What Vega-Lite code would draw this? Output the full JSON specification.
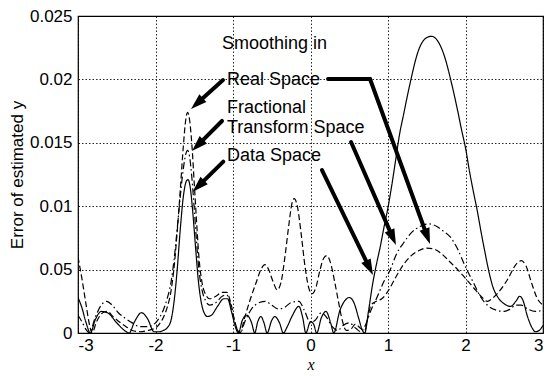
{
  "$schema": "https://vega.github.io/schema/vega-lite/v6.json",
  "width": 465,
  "height": 317,
  "autosize": {"type": "none"},
  "padding": {"left": 78, "top": 16, "right": 6, "bottom": 43},
  "background": "white",
  "config": {
    "view": {"stroke": "black", "strokeWidth": 1.2},
    "axis": {
      "domain": false, "ticks": false, "grid": true,
      "gridColor": "black", "gridDash": [1.5, 2], "gridWidth": 1, "gridOpacity": 0.85,
      "labelColor": "black", "labelFont": "Liberation Sans", "labelFontSize": 17,
      "titleColor": "black", "titleFont": "Liberation Sans", "titleFontSize": 17, "titleFontWeight": "normal"
    }
  },
  "datasets": {
    "series": [
      {"s":"Data","x":-3.0,"y":0.0028},{"s":"Data","x":-2.95,"y":0.0020},{"s":"Data","x":-2.9,"y":0.0009},{"s":"Data","x":-2.84,"y":0.0},{"s":"Data","x":-2.78,"y":0.0010},{"s":"Data","x":-2.7,"y":0.0017},{"s":"Data","x":-2.62,"y":0.0016},{"s":"Data","x":-2.5,"y":0.0008},{"s":"Data","x":-2.4,"y":0.0002},{"s":"Data","x":-2.34,"y":0.0},{"s":"Data","x":-2.27,"y":0.0009},{"s":"Data","x":-2.18,"y":0.0016},{"s":"Data","x":-2.1,"y":0.0011},{"s":"Data","x":-2.02,"y":0.0001},{"s":"Data","x":-1.95,"y":0.0001},{"s":"Data","x":-1.9,"y":0.0002},{"s":"Data","x":-1.85,"y":0.0004},{"s":"Data","x":-1.8,"y":0.0010},{"s":"Data","x":-1.76,"y":0.0025},{"s":"Data","x":-1.72,"y":0.0050},{"s":"Data","x":-1.68,"y":0.0082},{"s":"Data","x":-1.64,"y":0.0108},{"s":"Data","x":-1.6,"y":0.0120},{"s":"Data","x":-1.58,"y":0.0121},{"s":"Data","x":-1.55,"y":0.0114},{"s":"Data","x":-1.52,"y":0.0096},{"s":"Data","x":-1.48,"y":0.0065},{"s":"Data","x":-1.45,"y":0.0043},{"s":"Data","x":-1.42,"y":0.0028},{"s":"Data","x":-1.38,"y":0.0017},{"s":"Data","x":-1.33,"y":0.0013},{"s":"Data","x":-1.28,"y":0.0014},{"s":"Data","x":-1.2,"y":0.0021},{"s":"Data","x":-1.12,"y":0.0027},{"s":"Data","x":-1.07,"y":0.0027},{"s":"Data","x":-1.02,"y":0.0017},{"s":"Data","x":-0.97,"y":0.0005},{"s":"Data","x":-0.93,"y":0.0},{"s":"Data","x":-0.88,"y":0.0010},{"s":"Data","x":-0.82,"y":0.0014},{"s":"Data","x":-0.76,"y":0.0008},{"s":"Data","x":-0.72,"y":0.0},{"s":"Data","x":-0.68,"y":0.0009},{"s":"Data","x":-0.64,"y":0.0013},{"s":"Data","x":-0.6,"y":0.0008},{"s":"Data","x":-0.56,"y":0.0},{"s":"Data","x":-0.5,"y":0.0010},{"s":"Data","x":-0.46,"y":0.0013},{"s":"Data","x":-0.4,"y":0.0008},{"s":"Data","x":-0.35,"y":0.0},{"s":"Data","x":-0.3,"y":0.0005},{"s":"Data","x":-0.24,"y":0.0013},{"s":"Data","x":-0.15,"y":0.0021},{"s":"Data","x":-0.1,"y":0.0012},{"s":"Data","x":-0.06,"y":0.0},{"s":"Data","x":0.0,"y":0.0009},{"s":"Data","x":0.04,"y":0.0007},{"s":"Data","x":0.08,"y":0.0},{"s":"Data","x":0.14,"y":0.0012},{"s":"Data","x":0.2,"y":0.0017},{"s":"Data","x":0.26,"y":0.0008},{"s":"Data","x":0.3,"y":0.0},{"s":"Data","x":0.38,"y":0.0018},{"s":"Data","x":0.45,"y":0.0026},{"s":"Data","x":0.5,"y":0.0028},{"s":"Data","x":0.56,"y":0.0024},{"s":"Data","x":0.62,"y":0.0012},{"s":"Data","x":0.67,"y":0.0002},{"s":"Data","x":0.7,"y":0.0},{"s":"Data","x":0.75,"y":0.0018},{"s":"Data","x":0.8,"y":0.0038},{"s":"Data","x":0.85,"y":0.0054},{"s":"Data","x":0.9,"y":0.0068},{"s":"Data","x":0.95,"y":0.0084},{"s":"Data","x":1.0,"y":0.0099},{"s":"Data","x":1.05,"y":0.0117},{"s":"Data","x":1.1,"y":0.0137},{"s":"Data","x":1.15,"y":0.0157},{"s":"Data","x":1.2,"y":0.0172},{"s":"Data","x":1.25,"y":0.0187},{"s":"Data","x":1.3,"y":0.0201},{"s":"Data","x":1.35,"y":0.0214},{"s":"Data","x":1.4,"y":0.0224},{"s":"Data","x":1.45,"y":0.0230},{"s":"Data","x":1.5,"y":0.0233},{"s":"Data","x":1.56,"y":0.0234},{"s":"Data","x":1.62,"y":0.0232},{"s":"Data","x":1.68,"y":0.0226},{"s":"Data","x":1.74,"y":0.0216},{"s":"Data","x":1.8,"y":0.0202},{"s":"Data","x":1.85,"y":0.0189},{"s":"Data","x":1.9,"y":0.0175},{"s":"Data","x":1.95,"y":0.0160},{"s":"Data","x":2.0,"y":0.0146},{"s":"Data","x":2.05,"y":0.0128},{"s":"Data","x":2.1,"y":0.0112},{"s":"Data","x":2.15,"y":0.0097},{"s":"Data","x":2.2,"y":0.0080},{"s":"Data","x":2.25,"y":0.0064},{"s":"Data","x":2.3,"y":0.0049},{"s":"Data","x":2.35,"y":0.0037},{"s":"Data","x":2.42,"y":0.0028},{"s":"Data","x":2.5,"y":0.0023},{"s":"Data","x":2.58,"y":0.0021},{"s":"Data","x":2.65,"y":0.0025},{"s":"Data","x":2.7,"y":0.0029},{"s":"Data","x":2.74,"y":0.0026},{"s":"Data","x":2.8,"y":0.0013},{"s":"Data","x":2.86,"y":0.0004},{"s":"Data","x":2.9,"y":0.0001},{"s":"Data","x":2.95,"y":0.0002},{"s":"Data","x":3.0,"y":0.0006},

      {"s":"Real","x":-3.0,"y":0.0060},{"s":"Real","x":-2.95,"y":0.0043},{"s":"Real","x":-2.9,"y":0.0024},{"s":"Real","x":-2.85,"y":0.0006},{"s":"Real","x":-2.82,"y":0.0},{"s":"Real","x":-2.76,"y":0.0009},{"s":"Real","x":-2.68,"y":0.0016},{"s":"Real","x":-2.62,"y":0.0017},{"s":"Real","x":-2.55,"y":0.0013},{"s":"Real","x":-2.45,"y":0.0008},{"s":"Real","x":-2.38,"y":0.0005},{"s":"Real","x":-2.3,"y":0.0002},{"s":"Real","x":-2.2,"y":0.0001},{"s":"Real","x":-2.1,"y":0.0002},{"s":"Real","x":-2.0,"y":0.0004},{"s":"Real","x":-1.95,"y":0.0007},{"s":"Real","x":-1.9,"y":0.0012},{"s":"Real","x":-1.85,"y":0.0020},{"s":"Real","x":-1.8,"y":0.0033},{"s":"Real","x":-1.76,"y":0.0052},{"s":"Real","x":-1.72,"y":0.0080},{"s":"Real","x":-1.68,"y":0.0113},{"s":"Real","x":-1.64,"y":0.0148},{"s":"Real","x":-1.61,"y":0.0168},{"s":"Real","x":-1.585,"y":0.0174},{"s":"Real","x":-1.56,"y":0.0168},{"s":"Real","x":-1.53,"y":0.0148},{"s":"Real","x":-1.5,"y":0.0118},{"s":"Real","x":-1.47,"y":0.0088},{"s":"Real","x":-1.44,"y":0.0060},{"s":"Real","x":-1.4,"y":0.0040},{"s":"Real","x":-1.35,"y":0.0030},{"s":"Real","x":-1.3,"y":0.0027},{"s":"Real","x":-1.22,"y":0.0029},{"s":"Real","x":-1.14,"y":0.0032},{"s":"Real","x":-1.08,"y":0.0032},{"s":"Real","x":-1.03,"y":0.0024},{"s":"Real","x":-0.98,"y":0.0010},{"s":"Real","x":-0.94,"y":0.0002},{"s":"Real","x":-0.91,"y":0.0},{"s":"Real","x":-0.85,"y":0.0012},{"s":"Real","x":-0.78,"y":0.0026},{"s":"Real","x":-0.7,"y":0.0040},{"s":"Real","x":-0.64,"y":0.0050},{"s":"Real","x":-0.59,"y":0.0054},{"s":"Real","x":-0.54,"y":0.0050},{"s":"Real","x":-0.48,"y":0.0040},{"s":"Real","x":-0.43,"y":0.0034},{"s":"Real","x":-0.38,"y":0.0040},{"s":"Real","x":-0.33,"y":0.0060},{"s":"Real","x":-0.28,"y":0.0085},{"s":"Real","x":-0.24,"y":0.0102},{"s":"Real","x":-0.21,"y":0.0106},{"s":"Real","x":-0.17,"y":0.0100},{"s":"Real","x":-0.12,"y":0.0078},{"s":"Real","x":-0.07,"y":0.0052},{"s":"Real","x":-0.02,"y":0.0035},{"s":"Real","x":0.02,"y":0.0031},{"s":"Real","x":0.07,"y":0.0036},{"s":"Real","x":0.12,"y":0.0049},{"s":"Real","x":0.17,"y":0.0059},{"s":"Real","x":0.21,"y":0.0061},{"s":"Real","x":0.26,"y":0.0055},{"s":"Real","x":0.31,"y":0.0041},{"s":"Real","x":0.36,"y":0.0025},{"s":"Real","x":0.41,"y":0.0010},{"s":"Real","x":0.46,"y":0.0002},{"s":"Real","x":0.52,"y":0.0003},{"s":"Real","x":0.58,"y":0.0007},{"s":"Real","x":0.64,"y":0.0004},{"s":"Real","x":0.7,"y":0.0002},{"s":"Real","x":0.74,"y":0.0012},{"s":"Real","x":0.78,"y":0.0022},{"s":"Real","x":0.85,"y":0.0025},{"s":"Real","x":0.92,"y":0.0027},{"s":"Real","x":1.0,"y":0.0033},{"s":"Real","x":1.1,"y":0.0044},{"s":"Real","x":1.2,"y":0.0054},{"s":"Real","x":1.3,"y":0.0061},{"s":"Real","x":1.4,"y":0.0065},{"s":"Real","x":1.5,"y":0.0067},{"s":"Real","x":1.6,"y":0.0066},{"s":"Real","x":1.7,"y":0.0062},{"s":"Real","x":1.8,"y":0.0056},{"s":"Real","x":1.9,"y":0.0050},{"s":"Real","x":2.0,"y":0.0043},{"s":"Real","x":2.1,"y":0.0036},{"s":"Real","x":2.2,"y":0.0029},{"s":"Real","x":2.28,"y":0.0025},{"s":"Real","x":2.36,"y":0.0028},{"s":"Real","x":2.45,"y":0.0034},{"s":"Real","x":2.55,"y":0.0043},{"s":"Real","x":2.65,"y":0.0054},{"s":"Real","x":2.72,"y":0.0057},{"s":"Real","x":2.78,"y":0.0053},{"s":"Real","x":2.85,"y":0.0040},{"s":"Real","x":2.92,"y":0.0028},{"s":"Real","x":3.0,"y":0.0022},

      {"s":"Fractional","x":-3.0,"y":0.0014},{"s":"Fractional","x":-2.95,"y":0.0009},{"s":"Fractional","x":-2.9,"y":0.0003},{"s":"Fractional","x":-2.85,"y":0.0},{"s":"Fractional","x":-2.78,"y":0.0012},{"s":"Fractional","x":-2.7,"y":0.0022},{"s":"Fractional","x":-2.63,"y":0.0025},{"s":"Fractional","x":-2.56,"y":0.0022},{"s":"Fractional","x":-2.48,"y":0.0016},{"s":"Fractional","x":-2.4,"y":0.0012},{"s":"Fractional","x":-2.3,"y":0.0008},{"s":"Fractional","x":-2.2,"y":0.0005},{"s":"Fractional","x":-2.1,"y":0.0005},{"s":"Fractional","x":-2.0,"y":0.0008},{"s":"Fractional","x":-1.95,"y":0.0012},{"s":"Fractional","x":-1.9,"y":0.0018},{"s":"Fractional","x":-1.85,"y":0.0027},{"s":"Fractional","x":-1.8,"y":0.0040},{"s":"Fractional","x":-1.76,"y":0.0058},{"s":"Fractional","x":-1.72,"y":0.0082},{"s":"Fractional","x":-1.68,"y":0.0108},{"s":"Fractional","x":-1.64,"y":0.0130},{"s":"Fractional","x":-1.61,"y":0.0141},{"s":"Fractional","x":-1.585,"y":0.0144},{"s":"Fractional","x":-1.56,"y":0.0139},{"s":"Fractional","x":-1.53,"y":0.0122},{"s":"Fractional","x":-1.5,"y":0.0098},{"s":"Fractional","x":-1.47,"y":0.0072},{"s":"Fractional","x":-1.44,"y":0.0050},{"s":"Fractional","x":-1.4,"y":0.0034},{"s":"Fractional","x":-1.35,"y":0.0025},{"s":"Fractional","x":-1.3,"y":0.0022},{"s":"Fractional","x":-1.22,"y":0.0024},{"s":"Fractional","x":-1.14,"y":0.0029},{"s":"Fractional","x":-1.08,"y":0.0030},{"s":"Fractional","x":-1.03,"y":0.0022},{"s":"Fractional","x":-0.98,"y":0.0009},{"s":"Fractional","x":-0.94,"y":0.0002},{"s":"Fractional","x":-0.91,"y":0.0},{"s":"Fractional","x":-0.84,"y":0.0010},{"s":"Fractional","x":-0.76,"y":0.0019},{"s":"Fractional","x":-0.66,"y":0.0024},{"s":"Fractional","x":-0.58,"y":0.0025},{"s":"Fractional","x":-0.5,"y":0.0022},{"s":"Fractional","x":-0.42,"y":0.0019},{"s":"Fractional","x":-0.34,"y":0.0020},{"s":"Fractional","x":-0.25,"y":0.0024},{"s":"Fractional","x":-0.15,"y":0.0025},{"s":"Fractional","x":-0.08,"y":0.0018},{"s":"Fractional","x":0.0,"y":0.0008},{"s":"Fractional","x":0.06,"y":0.0010},{"s":"Fractional","x":0.14,"y":0.0016},{"s":"Fractional","x":0.2,"y":0.0013},{"s":"Fractional","x":0.28,"y":0.0005},{"s":"Fractional","x":0.35,"y":0.0002},{"s":"Fractional","x":0.42,"y":0.0006},{"s":"Fractional","x":0.5,"y":0.0008},{"s":"Fractional","x":0.58,"y":0.0004},{"s":"Fractional","x":0.65,"y":0.0001},{"s":"Fractional","x":0.7,"y":0.0005},{"s":"Fractional","x":0.78,"y":0.0018},{"s":"Fractional","x":0.85,"y":0.0027},{"s":"Fractional","x":0.95,"y":0.0041},{"s":"Fractional","x":1.03,"y":0.0050},{"s":"Fractional","x":1.1,"y":0.0061},{"s":"Fractional","x":1.2,"y":0.0071},{"s":"Fractional","x":1.3,"y":0.0079},{"s":"Fractional","x":1.41,"y":0.0084},{"s":"Fractional","x":1.53,"y":0.0086},{"s":"Fractional","x":1.63,"y":0.0084},{"s":"Fractional","x":1.72,"y":0.0080},{"s":"Fractional","x":1.8,"y":0.0076},{"s":"Fractional","x":1.9,"y":0.0066},{"s":"Fractional","x":2.0,"y":0.0052},{"s":"Fractional","x":2.1,"y":0.0040},{"s":"Fractional","x":2.2,"y":0.0028},{"s":"Fractional","x":2.3,"y":0.0021},{"s":"Fractional","x":2.4,"y":0.0018},{"s":"Fractional","x":2.5,"y":0.0017},{"s":"Fractional","x":2.58,"y":0.0019},{"s":"Fractional","x":2.65,"y":0.0022},{"s":"Fractional","x":2.72,"y":0.0022},{"s":"Fractional","x":2.8,"y":0.0019},{"s":"Fractional","x":2.9,"y":0.0017},{"s":"Fractional","x":3.0,"y":0.0018}
    ],
    "labels": [
      {"t":"Smoothing in","x":-1.142,"y":0.0228},
      {"t":"Real Space","x":-1.077,"y":0.01995},
      {"t":"Fractional","x":-1.077,"y":0.01774},
      {"t":"Transform Space","x":-1.077,"y":0.01617},
      {"t":"Data Space","x":-1.077,"y":0.01396}
    ],
    "legs": [
      {"a":"r2","x0":0.226,"y0":0.02003,"x1":0.768,"y1":0.02003}
    ],
    "arrows": [
      {"a":"r1","x0":-1.129,"y0":0.01995,"x1":-1.542,"y1":0.01767},
      {"a":"f1","x0":-1.142,"y0":0.01672,"x1":-1.529,"y1":0.01435},
      {"a":"d1","x0":-1.125,"y0":0.01351,"x1":-1.52,"y1":0.01114},
      {"a":"r2","x0":0.768,"y0":0.02003,"x1":1.542,"y1":0.00702},
      {"a":"f2","x0":0.523,"y0":0.01506,"x1":1.103,"y1":0.00694},
      {"a":"d2","x0":0.148,"y0":0.01285,"x1":0.806,"y1":0.00457}
    ]
  },
  "layer": [
    {
      "data": {"name": "series"},
      "mark": {"type": "line", "strokeWidth": 1.2, "color": "black", "interpolate": "monotone", "clip": true},
      "encoding": {
        "x": {"field": "x", "type": "quantitative",
              "scale": {"domain": [-3, 3], "nice": false, "zero": false},
              "axis": {"values": [-3,-2,-1,0,1,2,3], "labelPadding": 4,
                       "labelExpr": "datum.value < 0 ? '-' + abs(datum.value) : '' + datum.value",
                       "title": "x", "titleFont": "Liberation Serif", "titleFontStyle": "italic", "titleFontSize": 16, "titlePadding": 3}},
        "y": {"field": "y", "type": "quantitative",
              "scale": {"domain": [0, 0.025], "nice": false},
              "axis": {"values": [0,0.005,0.01,0.015,0.02,0.025], "labelPadding": 6,
                       "labelExpr": "datum.value == 0.005 ? '0.05' : format(datum.value, '~g')",
                       "title": "Error of estimated y", "titlePadding": 3}},
        "strokeDash": {"field": "s", "type": "nominal",
                       "scale": {"domain": ["Data","Real","Fractional"], "range": [[1,0],[6,3],[7,3,1.5,3]]},
                       "legend": null},
        "detail": {"field": "s"}
      }
    },
    {
      "data": {"name": "legs"},
      "mark": {"type": "rule", "strokeWidth": 4, "color": "black", "strokeCap": "round"},
      "encoding": {
        "x": {"field": "x0", "type": "quantitative"},
        "y": {"field": "y0", "type": "quantitative"},
        "x2": {"field": "x1"},
        "y2": {"field": "y1"}
      }
    },
    {
      "data": {"name": "arrows"},
      "transform": [
        {"calculate": "(datum.x1 - datum.x0) * 77.5", "as": "dxp"},
        {"calculate": "(datum.y1 - datum.y0) * 12680", "as": "dyp"},
        {"calculate": "sqrt(datum.dxp * datum.dxp + datum.dyp * datum.dyp)", "as": "len"},
        {"calculate": "datum.x1 - datum.dxp / datum.len * 8 / 77.5", "as": "hx"},
        {"calculate": "datum.y1 - datum.dyp / datum.len * 8 / 12680", "as": "hy"},
        {"calculate": "atan2(datum.dxp, datum.dyp) * 180 / PI", "as": "ang"}
      ],
      "layer": [
        {
          "mark": {"type": "rule", "strokeWidth": 4, "color": "black", "strokeCap": "round"},
          "encoding": {
            "x": {"field": "x0", "type": "quantitative"},
            "y": {"field": "y0", "type": "quantitative"},
            "x2": {"field": "hx"},
            "y2": {"field": "hy"}
          }
        },
        {
          "mark": {"type": "point", "shape": "M0,-1L-0.65,1L0.65,1Z", "filled": true, "color": "black", "opacity": 1, "size": 256, "strokeWidth": 0},
          "encoding": {
            "x": {"field": "hx", "type": "quantitative"},
            "y": {"field": "hy", "type": "quantitative"},
            "angle": {"field": "ang", "type": "quantitative", "scale": null}
          }
        }
      ]
    },
    {
      "data": {"name": "labels"},
      "mark": {"type": "text", "align": "left", "baseline": "middle", "font": "Liberation Sans", "fontSize": 18, "color": "black"},
      "encoding": {
        "x": {"field": "x", "type": "quantitative"},
        "y": {"field": "y", "type": "quantitative"},
        "text": {"field": "t"}
      }
    }
  ]
}
